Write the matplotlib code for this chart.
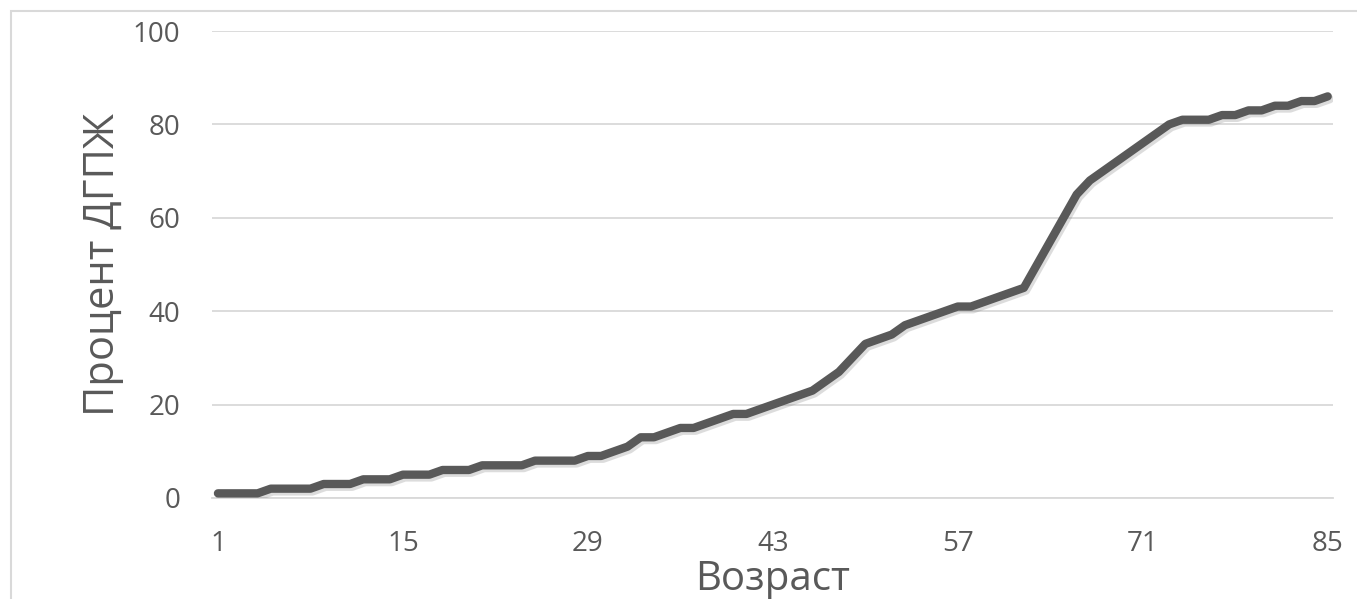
import matplotlib
matplotlib.use("Agg")
import matplotlib.pyplot as plt
import matplotlib.patheffects as pe
from matplotlib.patches import Rectangle

# возраст 1..85 и процент ДГПЖ
ages = list(range(1, 86))
percent = [
    1, 1, 1, 1, 2, 2, 2, 2, 3, 3,        # 1-10
    3, 4, 4, 4, 5, 5, 5, 6, 6, 6,        # 11-20
    7, 7, 7, 7, 8, 8, 8, 8, 9, 9,        # 21-30
    10, 11, 13, 13, 14, 15, 15, 16, 17, 18,  # 31-40
    18, 19, 20, 21, 22, 23, 25, 27, 30, 33,  # 41-50
    34, 35, 37, 38, 39, 40, 41, 41, 42, 43,  # 51-60
    44, 45, 50, 55, 60, 65, 68, 70, 72, 74,  # 61-70
    76, 78, 80, 81, 81, 81, 82, 82, 83, 83,  # 71-80
    84, 84, 85, 85, 86,                      # 81-85
]
x_ticks = [1, 15, 29, 43, 57, 71, 85]
y_ticks = [0, 20, 40, 60, 80, 100]

plt.rcParams["font.family"] = ["Open Sans", "DejaVu Sans"]
GREY = "#595959"
GRID = "#d9d9d9"

fig = plt.figure(figsize=(13.57, 5.99), dpi=100)
ax = fig.add_axes([212 / 1357, 101 / 599, (1333 - 212) / 1357, 467 / 599])

# внешняя рамка диаграммы (обрезана справа и снизу)
fig.patches.append(Rectangle((11 / 1357, -0.2), 1.2, 1.2 - 11 / 599,
                             transform=fig.transFigure, fill=False,
                             edgecolor=GRID, lw=1.5))

ax.plot(ages, percent, color=GREY, lw=6, solid_capstyle="round",
        solid_joinstyle="round",
        path_effects=[pe.SimpleLineShadow(offset=(1.5, -2), alpha=0.25, shadow_color="#777777"),
                      pe.Normal()], zorder=3)

ax.set_xlim(0.55, 85.4)
ax.set_ylim(0, 100)
ax.set_xticks(x_ticks)
ax.set_yticks(y_ticks)
ax.grid(axis="y", color=GRID, lw=1.3)
ax.set_axisbelow(True)
for s in ["top", "right", "left"]:
    ax.spines[s].set_visible(False)
ax.spines["bottom"].set_color(GRID)
ax.spines["bottom"].set_linewidth(1.3)
ax.tick_params(length=0, labelsize=20, labelcolor=GREY)
ax.tick_params(axis="y", pad=23)
ax.tick_params(axis="x", pad=23)

ax.set_xlabel("Возраст", fontsize=29, color=GREY, labelpad=1)
ax.set_ylabel("Процент ДГПЖ", fontsize=30, color=GREY, labelpad=6)

fig.savefig("out.png", dpi=100)
